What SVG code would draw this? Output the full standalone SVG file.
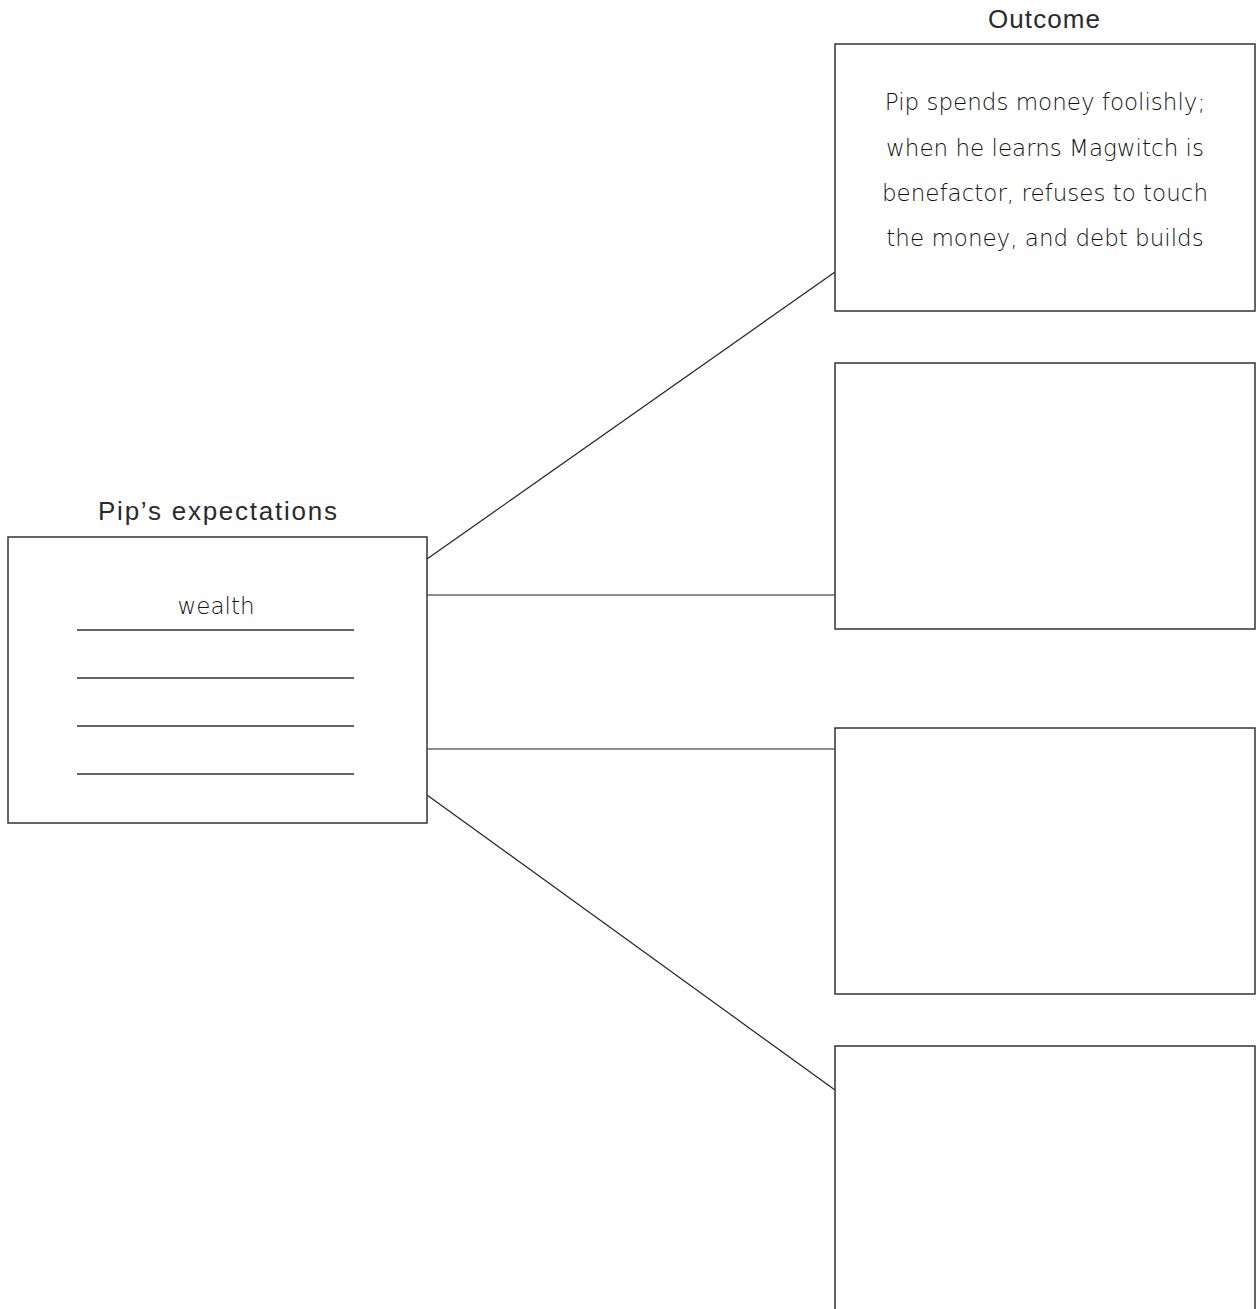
<svg xmlns="http://www.w3.org/2000/svg" width="1258" height="1309" viewBox="0 0 1258 1309">
<style>
.box{fill:#fff;stroke:#333;stroke-width:1.5}
.conn{stroke:#222;stroke-width:1.2;fill:none}
.rule{stroke:#333;stroke-width:1.5}
.head{font-family:"Liberation Sans",Arial,sans-serif;font-size:26px;fill:#2a2a2a;text-anchor:middle}
.hand{font-family:"DejaVu Sans","Liberation Sans",sans-serif;font-size:23px;fill:#111;text-anchor:middle;font-weight:300}
</style>
<rect width="1258" height="1309" fill="#fff"/>
<g id="connectors">
<line class="conn" x1="427" y1="559" x2="835" y2="272"/>
<line class="conn" x1="427" y1="595" x2="835" y2="595"/>
<line class="conn" x1="427" y1="749" x2="835" y2="749"/>
<line class="conn" x1="427" y1="795" x2="835" y2="1090"/>
</g>
<g id="expectations">
<text class="head" x="217.5" y="520" textLength="239" lengthAdjust="spacing">Pip’s expectations</text>
<rect class="box" x="8" y="537" width="419" height="286"/>
<text class="hand" x="216" y="614">wealth</text>
<line class="rule" x1="77" y1="630" x2="354" y2="630"/>
<line class="rule" x1="77" y1="678" x2="354" y2="678"/>
<line class="rule" x1="77" y1="726" x2="354" y2="726"/>
<line class="rule" x1="77" y1="774" x2="354" y2="774"/>
</g>
<g id="outcome1">
<text class="head" x="1044" y="28" textLength="112" lengthAdjust="spacing">Outcome</text>
<rect class="box" x="835" y="44" width="420" height="267"/>
<text class="hand" x="1045" y="110">Pip spends money foolishly;</text>
<text class="hand" x="1045" y="156">when he learns Magwitch is</text>
<text class="hand" x="1045" y="201">benefactor, refuses to touch</text>
<text class="hand" x="1045" y="246">the money, and debt builds</text>
</g>
<g id="outcome2">
<rect class="box" x="835" y="363" width="420" height="266"/>
</g>
<g id="outcome3">
<rect class="box" x="835" y="728" width="420" height="266"/>
</g>
<g id="outcome4">
<rect class="box" x="835" y="1046" width="420" height="267"/>
</g>
</svg>
